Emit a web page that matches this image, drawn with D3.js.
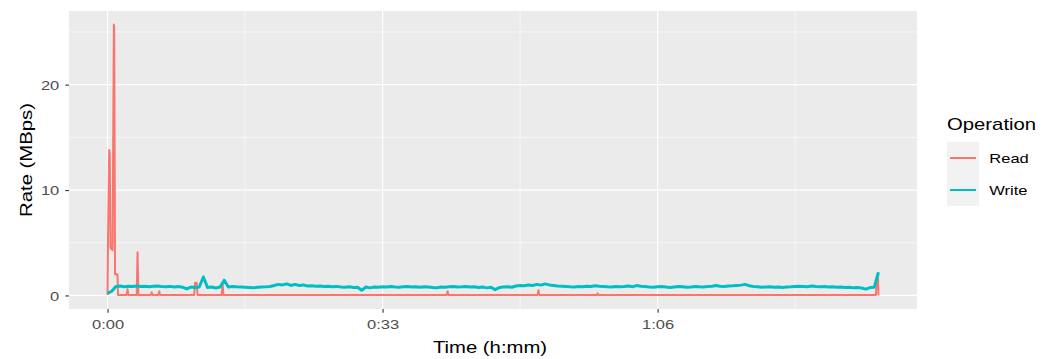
<!DOCTYPE html>
<html>
<head>
<meta charset="utf-8">
<script src="https://cdn.jsdelivr.net/npm/d3@7"></script>
<style>
  html, body { margin: 0; padding: 0; background: #fff; }
  svg { display: block; font-family: "Liberation Sans", Arial, sans-serif; }
</style>
</head>
<body>
<svg id="chart" width="1054" height="359"></svg>
<script>
// ---------- data ----------
const seriesNames = ["Read", "Write"];
const seriesColors = ["#F8766D", "#00BFC4"];

// Read rate (MBps) at given times (minutes)
const readTime = [0, 0.05, 0.2, 0.26, 0.36, 0.6, 0.76, 0.8, 0.9, 1.2, 1.25, 2.3, 2.4, 2.5, 3.5, 3.6, 3.7,
  5.2, 5.3, 5.4, 6.1, 6.2, 6.3, 10.4, 10.5, 10.7, 10.8, 13.7, 13.8, 13.9,
  40.7, 40.8, 40.9, 51.6, 51.7, 51.8, 58.7, 58.8, 58.9, 92.2, 92.3, 92.45, 92.5];
const readRate = [0.05, 5, 13.8, 13.5, 4.5, 4.3, 25.7, 25.5, 2.0, 2.0, 0.05, 0.05, 0.6, 0.05, 0.05, 4.1, 0.05,
  0.05, 0.3, 0.05, 0.05, 0.4, 0.05, 0.05, 1.2, 1.2, 0.05, 0.05, 1.2, 0.05,
  0.05, 0.4, 0.05, 0.05, 0.5, 0.05, 0.05, 0.2, 0.05, 0.05, 1.75, 1.75, 0.0];

// Write rate (MBps), sampled every 0.5 minutes starting at 0
const writeStep = 0.5;
const writeRate = [
  0.2, 0.4, 0.85, 0.9, 0.82, 0.88, 0.86, 0.9, 0.84, 0.87, 0.83, 0.88,
  0.9, 0.85, 0.82, 0.86, 0.8, 0.84, 0.78, 0.62, 0.8, 0.75, 0.8, 1.75,
  0.75, 0.8, 0.7, 0.8, 1.45, 0.8, 0.85, 0.82, 0.8, 0.78, 0.75, 0.72,
  0.78, 0.8, 0.82, 0.85, 0.95, 1.05, 1.0, 1.1, 0.95, 1.05, 0.95, 1.0,
  0.9, 0.92, 0.88, 0.9, 0.85, 0.88, 0.82, 0.86, 0.8, 0.78, 0.82, 0.75,
  0.78, 0.5, 0.8, 0.72, 0.8, 0.78, 0.82, 0.8, 0.85, 0.8, 0.78, 0.82,
  0.85, 0.8, 0.82, 0.78, 0.82, 0.8, 0.75, 0.72, 0.8, 0.78, 0.82, 0.85,
  0.8, 0.82, 0.85, 0.8, 0.82, 0.75, 0.8, 0.72, 0.78, 0.55, 0.75, 0.8,
  0.82, 0.78, 0.9, 0.95, 0.92, 1.0, 0.95, 1.05, 0.98, 1.1, 1.0, 0.95,
  0.9, 0.88, 0.85, 0.82, 0.8, 0.85, 0.82, 0.88, 0.85, 0.92, 0.88, 0.85,
  0.82, 0.8, 0.85, 0.82, 0.85, 0.9, 0.82, 0.95, 0.88, 0.85, 0.8, 0.78,
  0.82, 0.85, 0.8, 0.76, 0.8, 0.84, 0.82, 0.78, 0.8, 0.85, 0.82, 0.8,
  0.85, 0.88, 0.95, 0.88, 0.85, 0.9, 0.92, 0.95, 0.98, 1.05, 0.92, 0.85,
  0.82, 0.78, 0.8, 0.82, 0.78, 0.8, 0.76, 0.8, 0.82, 0.85, 0.88, 0.85,
  0.82, 0.9, 0.85, 0.82, 0.85, 0.8, 0.82, 0.78, 0.8, 0.75, 0.78, 0.72,
  0.75, 0.7, 0.6, 0.75, 0.78, 2.2
];

const xBreaks = [0, 33, 66];          // minutes
const xMinor = [16.5, 49.5, 82.5];
const yBreaks = [0, 10, 20];
const yMinor = [5, 15, 25];

// ---------- layout ----------
const panel = { left: 69, right: 917, top: 11, bottom: 309 };
const SX = 1.27;   // horizontal glyph stretch seen in the reference text

const readData = readTime.map((t, i) => ({ t, v: readRate[i] }));
const writeData = writeRate.map((v, i) => ({ t: i * writeStep, v }));
const allData = readData.concat(writeData);

const xExt = d3.extent(allData, d => d.t);
const yExt = d3.extent(allData, d => d.v);
const xPad = (xExt[1] - xExt[0]) * 0.05;
const yPad = (yExt[1] - yExt[0]) * 0.05;

const x = d3.scaleLinear().domain([xExt[0] - xPad, xExt[1] + xPad]).range([panel.left, panel.right]);
const y = d3.scaleLinear().domain([yExt[0] - yPad, yExt[1] + yPad]).range([panel.bottom, panel.top]);

const svg = d3.select("#chart");

function label(parent, tx, ty, txt, size, anchor, color, rot) {
  return parent.append("text")
    .attr("transform", `translate(${tx},${ty})${rot ? ` rotate(${rot})` : ""} scale(${SX},1)`)
    .attr("text-anchor", anchor).attr("fill", color)
    .style("font-size", size + "px").text(txt);
}

// panel background
svg.append("rect")
  .attr("x", panel.left).attr("y", panel.top)
  .attr("width", panel.right - panel.left).attr("height", panel.bottom - panel.top)
  .attr("fill", "#EBEBEB");

const grid = svg.append("g");
grid.selectAll(".ymin").data(yMinor).join("line")
  .attr("x1", panel.left).attr("x2", panel.right)
  .attr("y1", d => y(d)).attr("y2", d => y(d))
  .attr("stroke", "#fff").attr("stroke-width", 0.6);
grid.selectAll(".xmin").data(xMinor).join("line")
  .attr("y1", panel.top).attr("y2", panel.bottom)
  .attr("x1", d => x(d)).attr("x2", d => x(d))
  .attr("stroke", "#fff").attr("stroke-width", 0.6);
grid.selectAll(".ymaj").data(yBreaks).join("line")
  .attr("x1", panel.left).attr("x2", panel.right)
  .attr("y1", d => y(d)).attr("y2", d => y(d))
  .attr("stroke", "#fff").attr("stroke-width", 1.2);
grid.selectAll(".xmaj").data(xBreaks).join("line")
  .attr("y1", panel.top).attr("y2", panel.bottom)
  .attr("x1", d => x(d)).attr("x2", d => x(d))
  .attr("stroke", "#fff").attr("stroke-width", 1.2);

// lines
const line = d3.line().x(d => x(d.t)).y(d => y(d.v));
svg.append("path").datum(readData)
  .attr("d", line).attr("fill", "none")
  .attr("stroke", seriesColors[0]).attr("stroke-width", 2).attr("stroke-linejoin", "round");
svg.append("path").datum(writeData)
  .attr("d", line).attr("fill", "none")
  .attr("stroke", seriesColors[1]).attr("stroke-width", 3).attr("stroke-linejoin", "round");

// axes
const fmt = m => `${Math.floor(m / 60)}:${String(m % 60).padStart(2, "0")}`;
const xAxis = d3.axisBottom(x).tickValues(xBreaks).tickFormat(fmt).tickSize(3.67);
const yAxis = d3.axisLeft(y).tickValues(yBreaks).tickSize(3.67);

const gx = svg.append("g").attr("transform", `translate(0,${panel.bottom})`).call(xAxis);
const gy = svg.append("g").attr("transform", `translate(${panel.left},0)`).call(yAxis);
[gx, gy].forEach(g => {
  g.select(".domain").remove();
  g.selectAll(".tick line").attr("stroke", "#333333").attr("stroke-width", 1.1);
  g.selectAll(".tick text").attr("fill", "#4D4D4D")
    .style("font-size", "13px").style("font-family", "Liberation Sans, Arial, sans-serif")
    .attr("x", null).attr("y", null).attr("dy", null);
});
gx.selectAll(".tick text").attr("transform", `translate(0,20) scale(${SX},1)`);
gy.selectAll(".tick text").attr("transform", `translate(-9.7,4.7) scale(${SX},1)`);

// axis titles
label(svg, 490, 353, "Time (h:mm)", 16, "middle", "#000");
label(svg, 32, (panel.top + panel.bottom) / 2, "Rate (MBps)", 16, "middle", "#000", -90);

// legend
const lg = svg.append("g");
label(lg, 947, 130, "Operation", 16, "start", "#000");
const keyX = 947, keyY = 142, keyW = 32, keyH = 32;
seriesNames.forEach((name, i) => {
  const ky = keyY + i * keyH;
  lg.append("rect").attr("x", keyX).attr("y", ky).attr("width", keyW).attr("height", keyH)
    .attr("fill", "#F2F2F2");
  lg.append("line").attr("x1", keyX + 3).attr("x2", keyX + keyW - 3)
    .attr("y1", ky + keyH / 2).attr("y2", ky + keyH / 2)
    .attr("stroke", seriesColors[i]).attr("stroke-width", 2);
  label(lg, 989.3, ky + keyH / 2 + 4.8, name, 13, "start", "#000");
});
</script>
</body>
</html>
